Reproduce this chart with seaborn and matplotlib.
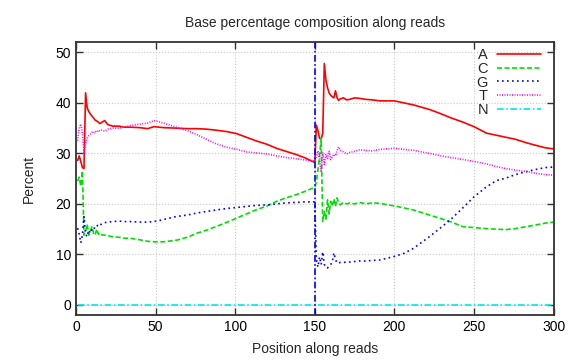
import pandas as pd
import seaborn as sns
import matplotlib
matplotlib.use('Agg')
import matplotlib.pyplot as plt

positions = [1, 2, 3, 4, 5, 6, 7, 8, 9, 10, 11, 12, 13, 14, 15, 16,
             18, 20, 23, 27, 30, 34, 40, 45, 49,
             55, 63, 70, 76, 82, 88, 95, 101, 107, 113,
             120, 126, 132, 139, 144, 150,
             151, 152, 153, 154, 155, 156, 157, 158, 159, 160, 161, 162, 163, 164, 165, 166,
             168, 170, 172, 175, 178, 182, 186, 191,
             200, 206, 212, 222, 228, 235, 243, 250,
             258, 264, 270, 276, 283, 290, 295, 300]

base_A = [28.6, 29.5, 28.4, 27.2, 27.0, 42.0, 39.0, 38.3, 37.8, 37.4, 37.0, 36.6, 36.4, 36.2, 35.9, 36.1,
          36.5, 35.7, 35.4, 35.4, 35.2, 35.2, 35.1, 34.9, 35.3,
          35.1, 35.0, 34.9, 34.9, 34.8, 34.6, 34.3, 33.9, 33.2, 32.5,
          31.8, 31.0, 30.4, 29.7, 29.1, 28.2,
          35.6, 34.5, 33.0, 32.8, 34.0, 47.8, 44.5, 43.0, 42.0, 41.5, 41.2, 41.0, 42.4, 41.0, 40.5, 40.8,
          41.0, 40.6, 40.7, 41.0, 40.9, 40.7, 40.6, 40.4,
          40.4, 40.0, 39.6, 38.7, 38.0, 37.1, 36.2, 35.3,
          34.0, 33.6, 33.2, 32.8, 32.1, 31.5, 31.1, 30.9]

base_C = [24.5, 25.3, 23.5, 26.5, 13.8, 14.5, 16.0, 13.8, 14.5, 15.5, 14.2, 13.8, 15.0, 14.0, 14.3, 13.9,
          13.8, 13.7, 13.5, 13.4, 13.2, 13.2, 12.9, 12.6, 12.5,
          12.5, 12.8, 13.4, 14.2, 14.8, 15.5, 16.4, 17.2, 18.0, 18.8,
          19.6, 20.5, 21.2, 21.9, 22.5, 23.3,
          24.4, 26.8, 29.5, 33.0, 16.5, 18.5, 17.0, 20.8, 18.0, 20.5, 19.5, 21.0, 19.5, 21.2, 20.2, 19.8,
          20.3, 20.0, 20.2, 20.0, 20.3, 20.0, 20.2, 20.1,
          19.6, 19.2, 18.8, 17.8, 17.2, 16.5, 15.5, 15.3,
          15.1, 15.0, 14.9, 15.1, 15.5, 15.9, 16.2, 16.4]

base_G = [15.2, 14.0, 12.3, 13.8, 17.5, 14.0, 13.5, 14.8, 14.2, 15.0, 14.8, 15.6, 15.5, 16.0, 15.8, 16.0,
          16.3, 16.4, 16.5, 16.6, 16.5, 16.5, 16.4, 16.4, 16.5,
          16.9, 17.5, 17.8, 18.2, 18.5, 18.8, 19.1, 19.3, 19.5, 19.7,
          19.8, 20.0, 20.2, 20.3, 20.4, 20.4,
          9.0, 7.5, 9.5, 8.0, 10.5, 8.0, 7.5, 7.3, 7.8, 8.0, 8.5, 10.3, 9.0, 8.3, 8.3, 8.4,
          8.4, 8.5, 8.5, 8.6, 8.7, 8.7, 8.8, 8.9,
          9.6, 10.2, 11.2, 13.5, 15.0, 16.8, 19.2, 21.4,
          23.4, 24.6, 25.1, 25.8, 26.4, 26.9, 27.2, 27.3]

base_T = [32.5, 35.0, 35.8, 34.0, 30.2, 32.0, 33.0, 33.5, 33.8, 34.2, 34.0, 34.4, 34.2, 34.6, 34.4, 34.6,
          34.4, 34.8, 35.0, 35.0, 35.2, 35.5, 35.8, 36.0, 36.5,
          36.0, 35.2, 34.5, 33.7, 32.8, 31.9, 31.2, 30.8, 30.3, 30.1,
          29.9, 29.5, 29.2, 28.9, 28.7, 28.5,
          29.5, 30.5, 28.8, 26.3, 30.2, 27.8, 29.8, 29.0, 30.4, 28.8, 29.3, 29.8, 29.5, 30.5, 31.3, 30.6,
          30.3, 29.9, 30.2, 30.4, 30.7, 30.6, 30.5, 30.8,
          31.0, 30.8, 30.6, 30.0, 29.6, 29.2, 28.8, 28.4,
          27.9, 27.4, 27.0, 26.7, 26.4, 26.0, 25.8, 25.7]

base_N = [0.0] * len(positions)

bases = ['A', 'C', 'G', 'T', 'N']
read_split = 150

frames = []
for b, vals in zip(bases, [base_A, base_C, base_G, base_T, base_N]):
    frames.append(pd.DataFrame({'Position': positions, 'Percent': vals, 'Base': b}))
data = pd.concat(frames, ignore_index=True)

palette = {'A': '#ff0000', 'C': '#00e000', 'G': '#0000ff', 'T': '#ff00ff', 'N': '#00e8e8'}
dashes = {'A': '', 'C': (3, 1.5), 'G': (1, 2), 'T': (0.6, 0.9), 'N': (4, 1.5, 1, 1.5)}

sns.set_style('ticks')
plt.rcParams['font.family'] = ['Liberation Sans', 'DejaVu Sans']

fig = plt.figure(figsize=(5.76, 3.6), dpi=100)
ax = fig.add_axes([0.132, 0.125, 0.829, 0.7575])

sns.lineplot(data=data, x='Position', y='Percent', hue='Base', style='Base',
             palette=palette, dashes=dashes, hue_order=bases, style_order=bases,
             linewidth=1.2, legend=False, ax=ax, errorbar=None, sort=True)

ax.axvline(read_split, color='#0000ff', lw=1.2, ls=(0, (4, 1.5, 1, 1.5)))

ax.set_xlim(0, 300)
ax.set_ylim(-2, 52)
ax.set_xticks(range(0, 301, 50))
ax.set_yticks(range(0, 51, 10))
ax.grid(True, color='#c8c8c8', ls=':', lw=0.8)
ax.tick_params(direction='in', top=True, right=True, length=5, width=1, labelsize=10, colors='#333333')
ax.tick_params(labelcolor='black')
for s in ax.spines.values():
    s.set_linewidth(1.3)
    s.set_color('#333333')

ax.set_title('Base percentage composition along reads', fontsize=10, pad=11)
ax.set_xlabel('Position along reads', fontsize=10, labelpad=6)
ax.set_ylabel('Percent', fontsize=10, labelpad=14)

handles = ax.get_lines()[:5]
leg = ax.legend(handles, bases, loc='upper right', bbox_to_anchor=(0.985, 1.0),
                frameon=False, markerfirst=False,
                fontsize=10.5, handlelength=3.0, handletextpad=0.6, labelspacing=-0.02,
                borderaxespad=0.0)

fig.savefig('out.png', dpi=100)
